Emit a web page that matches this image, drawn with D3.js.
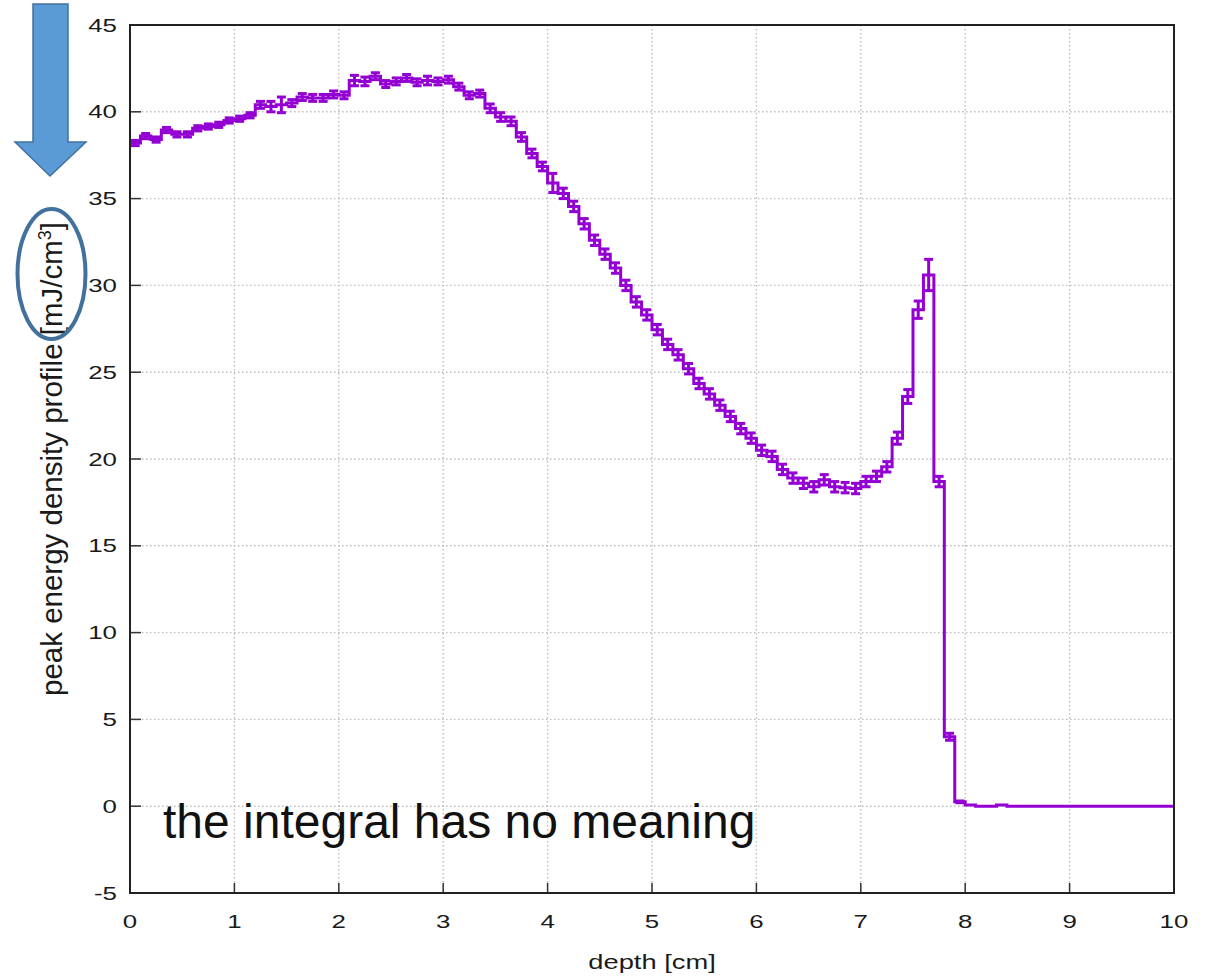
<!DOCTYPE html>
<html>
<head>
<meta charset="utf-8">
<script src="https://d3js.org/d3.v7.min.js"></script>
<style>
  body { margin: 0; background: #fff; }
  text { font-family: "Liberation Sans", Arial, sans-serif; }
</style>
</head>
<body>
<svg id="chart"></svg>
<script>
var width = 1221;
var height = 977;

var margin = {top: 25, right: 47, bottom: 84, left: 130};

// bin edges are every 0.1 cm from 0 to 10
var binWidth = 0.1;
var density = [
  38.2, 38.6, 38.4, 38.95, 38.7, 38.7, 39.05, 39.15, 39.25, 39.5,
  39.6, 39.8, 40.4, 40.3, 40.4, 40.5, 40.85, 40.8, 40.8, 41.0,
  40.95, 41.8, 41.75, 42.05, 41.6, 41.75, 41.95, 41.7, 41.8, 41.75,
  41.85, 41.45, 40.95, 41.05, 40.2, 39.7, 39.45, 38.55, 37.6, 36.85,
  35.9, 35.3, 34.55, 33.55, 32.6, 31.8, 31.0, 30.0, 29.05, 28.3,
  27.45, 26.6, 26.0, 25.2, 24.35, 23.75, 23.1, 22.45, 21.75, 21.2,
  20.5, 20.15, 19.4, 18.9, 18.6, 18.4, 18.8, 18.4, 18.35, 18.3,
  18.7, 19.0, 19.55, 21.2, 23.6, 28.6, 30.6, 18.7, 4.0, 0.25,
  0.07, 0, 0, 0.07, 0, 0, 0, 0, 0, 0,
  0, 0, 0, 0, 0, 0, 0, 0, 0, 0
];
var errors = [
  0.15, 0.15, 0.15, 0.15, 0.15, 0.15, 0.15, 0.15, 0.15, 0.15,
  0.15, 0.15, 0.2, 0.3, 0.45, 0.2, 0.2, 0.2, 0.2, 0.2,
  0.2, 0.3, 0.25, 0.2, 0.2, 0.2, 0.2, 0.2, 0.25, 0.2,
  0.2, 0.2, 0.2, 0.2, 0.25, 0.25, 0.25, 0.25, 0.25, 0.25,
  0.55, 0.3, 0.3, 0.3, 0.3, 0.3, 0.3, 0.3, 0.3, 0.3,
  0.3, 0.3, 0.3, 0.3, 0.3, 0.3, 0.3, 0.3, 0.3, 0.3,
  0.3, 0.3, 0.3, 0.3, 0.3, 0.3, 0.3, 0.3, 0.3, 0.3,
  0.3, 0.3, 0.3, 0.35, 0.4, 0.5, 0.9, 0.3, 0.2, 0.05,
  0, 0, 0, 0, 0, 0, 0, 0, 0, 0,
  0, 0, 0, 0, 0, 0, 0, 0, 0, 0
];
var xTicks = [0, 1, 2, 3, 4, 5, 6, 7, 8, 9, 10];
var yTicks = [-5, 0, 5, 10, 15, 20, 25, 30, 35, 40, 45];
var xLabel = "depth [cm]";
var yLabel = "peak energy density profile [mJ/cm";
var note = "the integral has no meaning";

var w = width - margin.left - margin.right;
var h = height - margin.top - margin.bottom;

var lineColor = "#9400d3";
var stretch = 1.4;   // tick text in the picture is wider than tall

var svg = d3.select("#chart")
    .attr("width", width)
    .attr("height", height);

var x = d3.scaleLinear().domain([0, 10]).range([0, w]);
var y = d3.scaleLinear().domain([-5, 45]).range([h, 0]);

var g = svg.append("g")
    .attr("transform", "translate(" + margin.left + "," + margin.top + ")");

// dotted grid
g.append("g")
    .selectAll("line")
    .data(xTicks.slice(1, -1))
    .enter().append("line")
    .attr("x1", function(d) { return x(d); })
    .attr("x2", function(d) { return x(d); })
    .attr("y1", 0)
    .attr("y2", h)
    .attr("stroke", "#bdbdbd")
    .attr("stroke-width", 1.4)
    .attr("stroke-dasharray", "1.5,2.5");

g.append("g")
    .selectAll("line")
    .data(yTicks.slice(1, -1))
    .enter().append("line")
    .attr("x1", 0)
    .attr("x2", w)
    .attr("y1", function(d) { return y(d); })
    .attr("y2", function(d) { return y(d); })
    .attr("stroke", "#bdbdbd")
    .attr("stroke-width", 1.4)
    .attr("stroke-dasharray", "1.5,2.5");

// ticks pointing inward
g.append("g")
    .selectAll("line")
    .data(xTicks)
    .enter().append("line")
    .attr("x1", function(d) { return x(d); })
    .attr("x2", function(d) { return x(d); })
    .attr("y1", h)
    .attr("y2", h - 10)
    .attr("stroke", "#333")
    .attr("stroke-width", 1.5);

g.append("g")
    .selectAll("line")
    .data(yTicks)
    .enter().append("line")
    .attr("x1", 0)
    .attr("x2", 11)
    .attr("y1", function(d) { return y(d); })
    .attr("y2", function(d) { return y(d); })
    .attr("stroke", "#333")
    .attr("stroke-width", 1.5);

// tick labels
g.append("g")
    .selectAll("text")
    .data(xTicks)
    .enter().append("text")
    .attr("transform", function(d) { return "translate(" + x(d) + "," + (h + 35) + ") scale(" + stretch + ",1)"; })
    .attr("text-anchor", "middle")
    .attr("font-size", 18.5)
    .attr("fill", "#1a1a1a")
    .text(function(d) { return d; });

g.append("g")
    .selectAll("text")
    .data(yTicks)
    .enter().append("text")
    .attr("transform", function(d) { return "translate(-13," + (y(d) + 6.5) + ") scale(" + stretch + ",1)"; })
    .attr("text-anchor", "end")
    .attr("font-size", 18.5)
    .attr("fill", "#1a1a1a")
    .text(function(d) { return d; });

// histogram steps
var steps = density.map(function(v, i) { return [i * binWidth, v]; });
steps.push([density.length * binWidth, density[density.length - 1]]);

var line = d3.line()
    .x(function(d) { return x(d[0]); })
    .y(function(d) { return y(d[1]); })
    .curve(d3.curveStepAfter);

g.append("path")
    .datum(steps)
    .attr("d", line)
    .attr("fill", "none")
    .attr("stroke", lineColor)
    .attr("stroke-width", 3);

// error bars at bin centres
var bars = g.append("g")
    .selectAll("g")
    .data(density.map(function(v, i) { return {c: (i + 0.5) * binWidth, v: v, e: errors[i]}; })
        .filter(function(d) { return d.e > 0; }))
    .enter().append("g")
    .attr("stroke", lineColor)
    .attr("stroke-width", 3);

bars.append("line")
    .attr("x1", function(d) { return x(d.c); })
    .attr("x2", function(d) { return x(d.c); })
    .attr("y1", function(d) { return y(d.v - d.e); })
    .attr("y2", function(d) { return y(d.v + d.e); });

bars.append("line")
    .attr("x1", function(d) { return x(d.c) - 4.5; })
    .attr("x2", function(d) { return x(d.c) + 4.5; })
    .attr("y1", function(d) { return y(d.v - d.e); })
    .attr("y2", function(d) { return y(d.v - d.e); });

bars.append("line")
    .attr("x1", function(d) { return x(d.c) - 4.5; })
    .attr("x2", function(d) { return x(d.c) + 4.5; })
    .attr("y1", function(d) { return y(d.v + d.e); })
    .attr("y2", function(d) { return y(d.v + d.e); });

// frame
g.append("rect")
    .attr("width", w)
    .attr("height", h)
    .attr("fill", "none")
    .attr("stroke", "#222")
    .attr("stroke-width", 2);

// axis titles
svg.append("text")
    .attr("transform", "translate(" + (margin.left + w / 2) + ",969) scale(" + stretch + ",1)")
    .attr("text-anchor", "middle")
    .attr("font-size", 19.5)
    .attr("fill", "#1a1a1a")
    .text(xLabel);

var yl = svg.append("text")
    .attr("transform", "translate(62," + (margin.top + h / 2) + ") rotate(-90)")
    .attr("text-anchor", "middle")
    .attr("font-size", 29.5)
    .attr("fill", "#1a1a1a");
yl.append("tspan").text(yLabel);
yl.append("tspan").attr("dy", -11).attr("font-size", 18).text("3");
yl.append("tspan").attr("dy", 11).text("]");

// annotation
svg.append("text")
    .attr("x", 163)
    .attr("y", 838)
    .attr("font-size", 48)
    .attr("fill", "#111")
    .text(note);

// overlay arrow and circle
svg.append("path")
    .attr("d", "M33,4 L68,4 L68,142 L86,142 L50,176 L15,142 L33,142 Z")
    .attr("fill", "#5b9bd5")
    .attr("stroke", "#41719c")
    .attr("stroke-width", 1.5);

svg.append("ellipse")
    .attr("cx", 51.5)
    .attr("cy", 274)
    .attr("rx", 34)
    .attr("ry", 65)
    .attr("fill", "none")
    .attr("stroke", "#41719c")
    .attr("stroke-width", 4);
</script>
</body>
</html>
